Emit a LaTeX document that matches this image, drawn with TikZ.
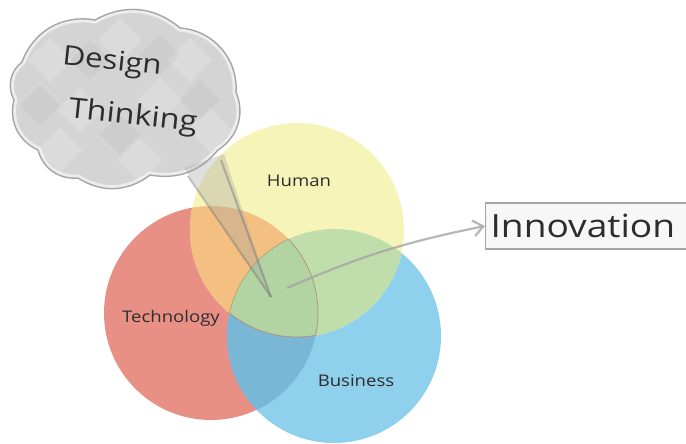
\documentclass[tikz,border=0pt]{standalone}
\usepackage{fontspec}
\setmainfont{Open Sans}
\newfontfamily\handfont[FakeStretch=1.16]{Open Sans}
\usetikzlibrary{arrows.meta}
\definecolor{humanyellow}{RGB}{247, 244, 186}
\definecolor{techred}{RGB}{233, 144, 134}
\definecolor{busblue}{RGB}{143, 208, 236}
\definecolor{redyellow}{RGB}{243, 192, 130}
\definecolor{yellowblue}{RGB}{192, 222, 172}
\definecolor{redblue}{RGB}{122, 182, 214}
\definecolor{tripgreen}{RGB}{178, 212, 162}
\definecolor{rimbrown}{RGB}{176, 124, 96}
\definecolor{pencil}{RGB}{165, 165, 165}
\definecolor{cloudgray}{RGB}{212, 212, 212}
\definecolor{ink}{RGB}{45, 45, 45}
\newcommand\cloudpath{(22,62) to[bend left=40] (95,20) to[bend left=35] (180,28)
    to[bend left=45] (236,92) to[bend left=40] (218,150) to[bend left=30] (150,175)
    to[bend left=35] (78,178) to[bend left=40] (38,150) to[bend left=40] (14,100)
    to[bend left=40] cycle}

\begin{document}
\begin{tikzpicture}[x=1pt, y=-1pt,
    label/.style={color=ink, inner sep=0pt, font=\handfont\fontsize{#1}{#1}\selectfont},
    label/.default=16]
            \useasboundingbox (0,0) rectangle (686,444);
            \fill[white] (0,0) rectangle (686,444);
            \coordinate (hum) at (297,230);
            \coordinate (tec) at (211,313);
            \coordinate (bus) at (334,336);
            \fill[techred]    (tec) circle (107pt);
            \fill[busblue]    (bus) circle (107pt);
            \fill[humanyellow](hum) circle (107pt);
            \begin{scope}
                \clip (tec) circle (107pt);
                \fill[redyellow] (hum) circle (107pt);
                \fill[redblue]   (bus) circle (107pt);
            \end{scope}
            \begin{scope}
                \clip (hum) circle (107pt);
                \fill[yellowblue] (bus) circle (107pt);
                \clip (tec) circle (107pt);
                \fill[tripgreen]  (bus) circle (107pt);
            \end{scope}
            \begin{scope}
                \clip (hum) circle (107pt); \clip (bus) circle (107pt);
                \draw[rimbrown, opacity=0.7, thick] (tec) circle (107pt);
            \end{scope}
            \begin{scope}
                \clip (tec) circle (107pt); \clip (bus) circle (107pt);
                \draw[rimbrown, opacity=0.7, thick] (hum) circle (107pt);
            \end{scope}
            \begin{scope}
                \clip (tec) circle (107pt); \clip (hum) circle (107pt);
                \draw[rimbrown, opacity=0.5, thick] (bus) circle (107pt);
            \end{scope}
            \fill[cloudgray] \cloudpath;
            \begin{scope}
                \clip \cloudpath;
                \foreach \cx/\cy in {50/60, 120/40, 190/60, 80/110, 160/100, 60/150, 140/160, 210/130}
                    \fill[white, opacity=0.18, rotate around={45:(\cx,\cy)}] (\cx-16,\cy-16) rectangle (\cx+16,\cy+16);
                \foreach \cx/\cy in {90/60, 160/55, 40/105, 120/135, 200/100}
                    \fill[gray, opacity=0.08, rotate around={45:(\cx,\cy)}] (\cx-14,\cy-14) rectangle (\cx+14,\cy+14);
                \draw[white, opacity=0.6, line width=7pt] \cloudpath;
            \end{scope}
            \draw[pencil, line width=1.4pt] \cloudpath;
            \coordinate (tip) at (271,297);
            \fill[pencil, opacity=0.35] (184,168) -- (224,154) -- (tip) -- cycle;
            \draw[pencil!70!black, opacity=0.45, line width=2pt] (188,176) -- (tip);
            \draw[pencil!70!black, opacity=0.45, line width=2pt] (221,160) -- (tip);
            \node[label=27, rotate=-6] (design)   at (112,63)  {Design};
            \node[label=28, rotate=-6] (thinking) at (133,117) {Thinking};
            \node[label] (human)    at (299,181) {Human};
            \node[label] (techno)   at (171,318) {Technology};
            \node[label] (business) at (356,381) {Business};
            \node[label=32, anchor=west, draw=pencil, fill=gray!6, line width=1.2pt,
                  minimum height=46pt, inner xsep=5pt, text width=205pt, align=left] (innov) at (485,226) {Innovation};
            \coordinate (start) at (287,288);
            \draw[pencil, opacity=0.8, line width=2.2pt,
                  -{Straight Barb[length=10pt, width=16pt]}] (start) to[bend left=6] (innov.west);
        \end{tikzpicture}
\end{document}
